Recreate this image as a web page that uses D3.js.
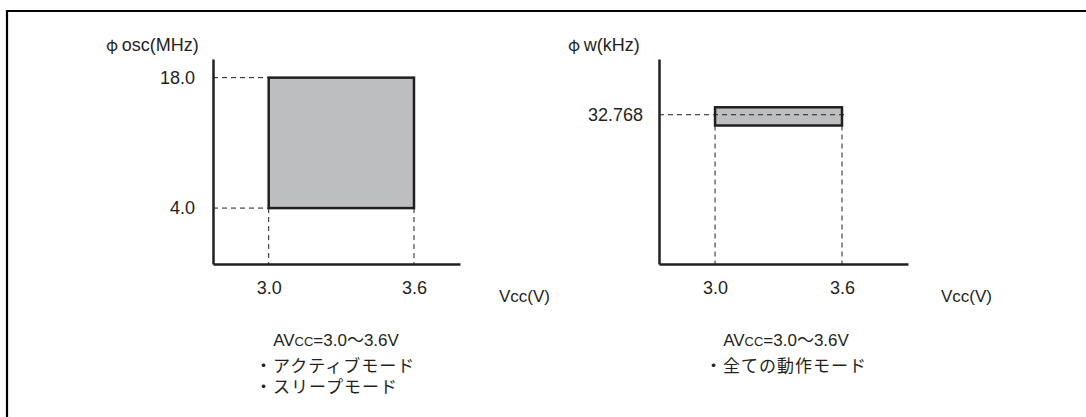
<!DOCTYPE html>
<html>
<head>
<meta charset="utf-8">
<script src="https://cdn.jsdelivr.net/npm/d3@7"></script>
<style>
  html, body { margin: 0; padding: 0; background: #fff; }
  svg { display: block; }
  text { fill: #231f20; font-family: "Liberation Sans", Arial, sans-serif; }
  .jp { font-family: "Liberation Sans", "Noto Sans CJK JP", sans-serif; }
</style>
</head>
<body>
<svg id="chart" width="1086" height="417"></svg>
<script>
// ---- data ----
const xTicks = [3.0, 3.6];                 // Vcc tick values (V)
const oscVoltage = [3.0, 3.6];             // operating Vcc range, φosc
const oscFreq = [4.0, 18.0];               // φosc range (MHz)
const oscYTicks = [4.0, 18.0];
const wVoltage = [3.0, 3.6];               // operating Vcc range, φw
const wFreqNominal = 32.768;               // φw (kHz)
const wFreqBand = [30.4, 34.4];            // drawn band around nominal
const wYTicks = [32.768];
const oscAxisTitle = "osc(MHz)";
const wAxisTitle = "w(kHz)";
const xAxisTitle = "Vcc(V)";
const leftNotes = ["・アクティブモード", "・スリープモード"];
const rightNotes = ["・全ての動作モード"];

const ink = "#231f20";
const fillGray = "#bdbec0";

const svg = d3.select("#chart");

// frame (top and left border)
svg.append("line").attr("x1", 6).attr("x2", 1086).attr("y1", 11).attr("y2", 11)
  .attr("stroke", "#000").attr("stroke-width", 2.2);
svg.append("line").attr("x1", 7).attr("x2", 7).attr("y1", 10).attr("y2", 417)
  .attr("stroke", "#000").attr("stroke-width", 2.2);

function panel(cfg) {
  const g = svg.append("g");
  const x = d3.scaleLinear().domain(cfg.xDomain).range(cfg.xRange);
  const y = d3.scaleLinear().domain(cfg.yDomain).range([264, 59]);

  // region fill
  g.append("rect")
    .attr("x", x(cfg.volt[0])).attr("y", y(cfg.band[1]))
    .attr("width", x(cfg.volt[1]) - x(cfg.volt[0]))
    .attr("height", y(cfg.band[0]) - y(cfg.band[1]))
    .attr("fill", fillGray).attr("stroke", "none");

  // dashed guides
  const dash = g.append("g").attr("stroke", ink).attr("stroke-width", 1).attr("stroke-dasharray", "5,4").attr("fill", "none");
  cfg.hGuides.forEach(v => {
    dash.append("line").attr("x1", x.range()[0]).attr("x2", cfg.hGuideEnd(x))
      .attr("y1", y(v)).attr("y2", y(v));
  });
  cfg.vGuides.forEach(v => {
    dash.append("line").attr("x1", x(v)).attr("x2", x(v))
      .attr("y1", y(cfg.band[0])).attr("y2", y.range()[0]);
  });

  // region outline
  g.append("rect")
    .attr("x", x(cfg.volt[0])).attr("y", y(cfg.band[1]))
    .attr("width", x(cfg.volt[1]) - x(cfg.volt[0]))
    .attr("height", y(cfg.band[0]) - y(cfg.band[1]))
    .attr("fill", "none").attr("stroke", ink).attr("stroke-width", 2.5);

  // axes
  const xa = g.append("g").attr("transform", `translate(0,${y.range()[0]})`)
    .call(d3.axisBottom(x).tickValues(xTicks).tickSize(0).tickPadding(17).tickFormat(d3.format(".1f")));
  const ya = g.append("g").attr("transform", `translate(${x.range()[0]},0)`)
    .call(d3.axisLeft(y).tickValues(cfg.yTicks).tickSize(0).tickPadding(cfg.yPad).tickFormat(d3.format(cfg.yFmt)));
  [xa, ya].forEach(a => {
    a.select(".domain").attr("stroke", ink).attr("stroke-width", 2.5);
    a.selectAll("text").attr("fill", ink).style("font-size", "18px")
      .style("font-family", '"Liberation Sans", Arial, sans-serif');
  });

  // titles
  const yt = g.append("text").attr("x", cfg.yTitleX).attr("y", 51).style("font-size", "18px");
  yt.append("tspan").style("font-family", '"Noto Sans CJK JP", sans-serif').style("font-size", "16px").text("φ ");
  yt.append("tspan").text(cfg.yTitle);
  g.append("text").attr("x", cfg.xTitleX).attr("y", 302).style("font-size", "17px")
    .text(xAxisTitle);

  // notes
  const av = g.append("text").attr("x", cfg.noteCenter).attr("y", 346)
    .attr("text-anchor", "middle").style("font-size", "17px");
  av.append("tspan").text("AV");
  av.append("tspan").style("font-size", "13px").text("CC");
  av.append("tspan").text("=3.0");
  av.append("tspan").attr("class", "jp").text("～");
  av.append("tspan").text("3.6V");
  cfg.notes.forEach((t, i) => {
    g.append("text").attr("class", "jp").attr("x", cfg.noteLeft).attr("y", 372 + i * 21)
      .style("font-size", "17px").style("letter-spacing", "1px").text(t);
  });
}

panel({
  xDomain: [2.77, 3.79], xRange: [213, 460],
  yDomain: [-2, 20],
  volt: oscVoltage, band: oscFreq,
  hGuides: oscFreq, hGuideEnd: x => x(oscVoltage[0]),
  vGuides: oscVoltage,
  yTicks: oscYTicks, yFmt: ".1f", yPad: 18,
  yTitle: oscAxisTitle, yTitleX: 106, xTitleX: 499,
  noteCenter: 336, noteLeft: 255, notes: leftNotes
});

panel({
  xDomain: [2.735, 3.912], xRange: [659, 908],
  yDomain: [0, 45],
  volt: wVoltage, band: wFreqBand,
  hGuides: [wFreqNominal], hGuideEnd: x => x(wVoltage[1]) + 5,
  vGuides: wVoltage,
  yTicks: wYTicks, yFmt: ".3f", yPad: 16,
  yTitle: wAxisTitle, yTitleX: 568, xTitleX: 941,
  noteCenter: 786, noteLeft: 705, notes: rightNotes
});
</script>
</body>
</html>
